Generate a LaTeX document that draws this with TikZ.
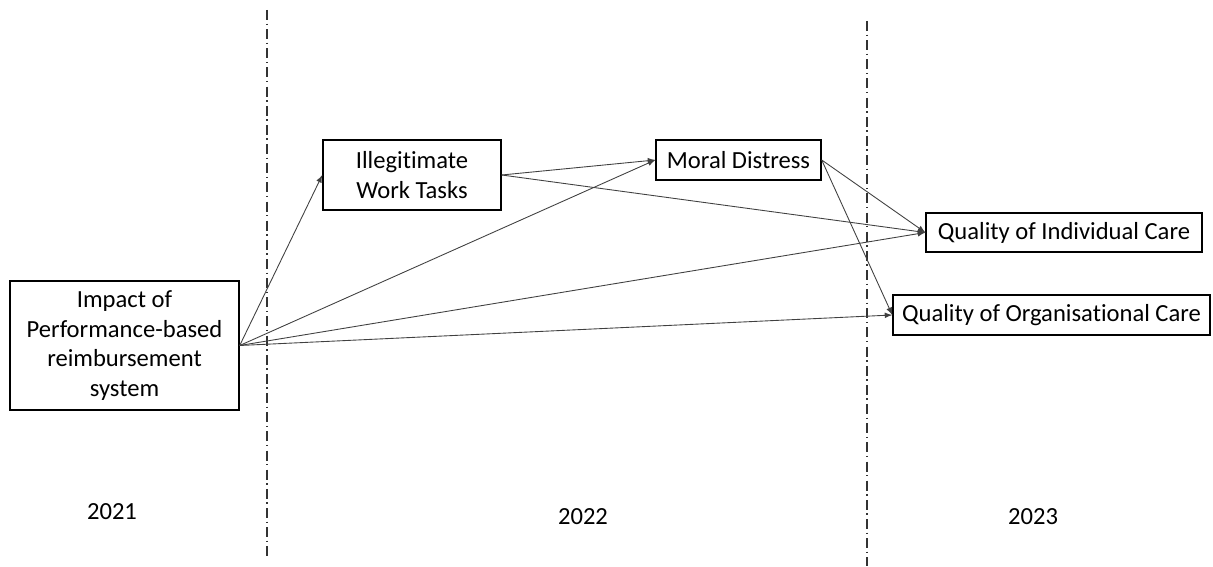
\documentclass[tikz,border=0pt]{standalone}
\usepackage{fontspec}
\setmainfont{Carlito}[RawFeature={-liga}]
\usepackage{tikz}

\tikzset{
    box/.style={draw=black, line width=0.8pt, align=center, inner sep=0pt,
        font=\fontsize{14}{17}\selectfont},
    link/.style={black!75, line width=0.5pt, -latex},
    period/.style={black!80, line width=0.6pt,
        dash pattern=on 5.7pt off 2pt on 0.8pt off 2.4pt},
    year/.style={font=\fontsize{14}{17}\selectfont}
}

\begin{document}
\begin{tikzpicture}
                \useasboundingbox (0, 0) rectangle (24.26, 11.32);
                % Period borders
                \coordinate (p1top) at (5.34, 11.12);
                \coordinate (p1bot) at (5.34, 0.16);
                \coordinate (p2top) at (17.34, 10.90);
                \coordinate (p2bot) at (17.34, 0);
                \draw [period] (p1top) -- (p1bot);
                \draw [period] (p2top) -- (p2bot);
                % Boxes
                \node [box, minimum width=4.58cm, minimum height=2.58cm] (impact) at (2.49, 4.41)
                    {Impact of\\Performance-based\\reimbursement\\system};
                \node [box, minimum width=3.56cm, minimum height=1.40cm] (illegit) at (8.24, 7.82)
                    {Illegitimate\\Work Tasks};
                \node [box, minimum width=3.30cm, minimum height=0.80cm] (moral) at (14.77, 8.12)
                    {Moral Distress};
                \node [box, minimum width=5.52cm, minimum height=0.78cm] (indiv) at (21.28, 6.67)
                    {Quality of Individual Care};
                \node [box, minimum width=6.34cm, minimum height=0.80cm] (organ) at (21.03, 5.02)
                    {Quality of Organisational Care};
                % Years
                \node [year] (y2021) at (2.24, 1.08) {2021};
                \node [year] (y2022) at (11.66, 0.98) {2022};
                \node [year] (y2023) at (20.66, 0.98) {2023};
                % Paths
                \draw [link] (impact.east) -- (illegit.west);
                \draw [link] (impact.east) -- (moral.west);
                \draw [link] (impact.east) -- (indiv.west);
                \draw [link] (impact.east) -- (organ.west);
                \draw [link] (illegit.east) -- (moral.west);
                \draw [link] (illegit.east) -- (indiv.west);
                \draw [link] (moral.east) -- (indiv.west);
                \draw [link] (moral.east) -- (organ.west);
            \end{tikzpicture}
\end{document}
